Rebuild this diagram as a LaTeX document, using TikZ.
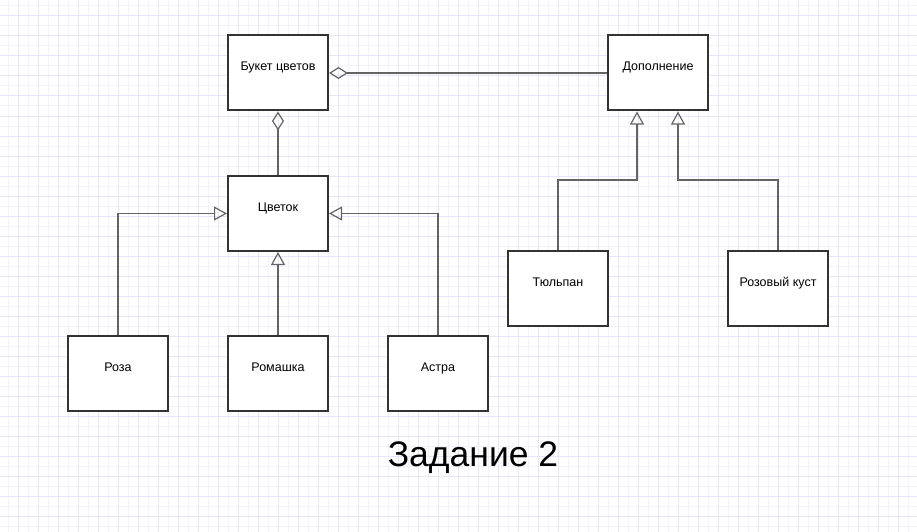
\documentclass[tikz,border=0pt]{standalone}
\usepackage{fontspec}
\setmainfont{Liberation Sans}
\usetikzlibrary{arrows.meta}
\definecolor{gridminor}{RGB}{242,242,252}
\definecolor{gridmajor}{RGB}{230,230,250}
\definecolor{boxline}{RGB}{51,51,51}
\definecolor{wireline}{RGB}{100,100,100}
\tikzset{
    % class boxes
    classbox/.style={draw=boxline, line width=2pt, fill=white,
                     minimum width=100pt, minimum height=75pt,
                     inner sep=0pt, text height=9pt, text depth=13pt,
                     font=\fontsize{12.5}{14}\selectfont},
    % generalisation (open triangle at the parent)
    inherit/.style={draw=wireline, line width=1.4pt,
                    -{Triangle[open, length=13pt, width=14pt, line width=1.2pt]}},
    % aggregation (open diamond at the whole)
    aggregate/.style={draw=wireline, line width=1.4pt,
                      {Diamond[open, length=19pt, width=12pt, line width=1.2pt]}-}
}

\begin{document}
\begin{tikzpicture}[x=1pt, y=-1pt]
    % Page and grid
    \useasboundingbox (0,0) rectangle (917,532);
    \fill[white] (0,0) rectangle (917,532);
    \foreach \gx in {8,28,...,917} \draw[gridminor, line width=1pt] (\gx,0) -- (\gx,532);
    \foreach \gy in {6,26,...,532} \draw[gridminor, line width=1pt] (0,\gy) -- (917,\gy);
    \foreach \gx in {18,38,...,917} \draw[gridmajor, line width=1pt] (\gx,0) -- (\gx,532);
    \foreach \gy in {16,36,...,532} \draw[gridmajor, line width=1pt] (0,\gy) -- (917,\gy);

    % Classes
    \node[classbox] (bouquet) at (278,73) {Букет цветов};
    \node[classbox] (addition) at (658,73) {Дополнение};
    \node[classbox] (flower) at (278,213.5) {Цветок};
    \node[classbox] (rose) at (118,373.5) {Роза};
    \node[classbox] (chamomile) at (278,373.5) {Ромашка};
    \node[classbox] (aster) at (438,373.5) {Астра};
    \node[classbox] (tulip) at (558,288.5) {Тюльпан};
    \node[classbox] (rosebush) at (778,288.5) {Розовый куст};

    % Bends
    \coordinate (tulipbend) at (558,180);
    \coordinate (bushbend) at (778,180);

    % Aggregation
    \draw[aggregate] (bouquet.east) -- (addition.west);
    \draw[aggregate] (bouquet.south) -- (flower.north);

    % Generalisation
    \draw[inherit] (rose.north) |- (flower.west);
    \draw[inherit] (chamomile.north) -- (flower.south);
    \draw[inherit] (aster.north) |- (flower.east);
    \draw[inherit] (tulip.north) -- (tulipbend) -| ([xshift=-21pt]addition.south);
    \draw[inherit] (rosebush.north) -- (bushbend) -| ([xshift=20pt]addition.south);

    % Title
    \node[anchor=base, font=\fontsize{35.5}{40}\selectfont] (title) at (473,466.5) {Задание 2};
\end{tikzpicture}
\end{document}
